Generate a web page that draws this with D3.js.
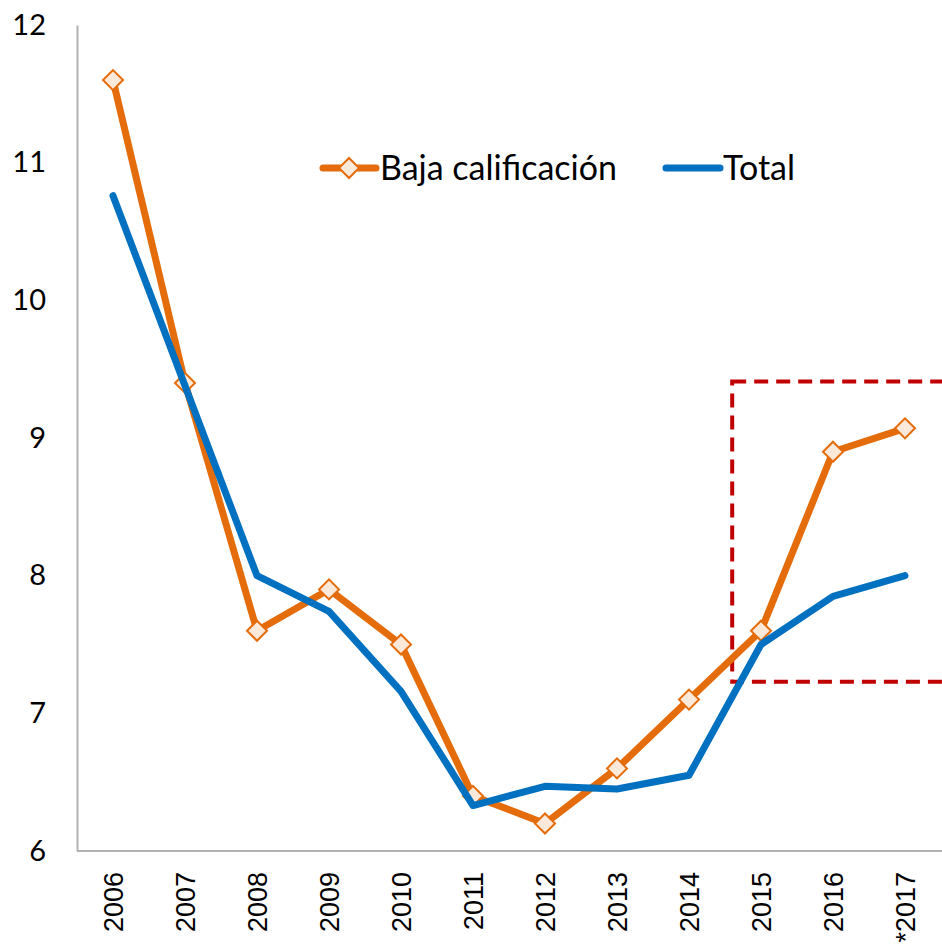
<!DOCTYPE html>
<html>
<head>
<meta charset="utf-8">
<script src="https://cdn.jsdelivr.net/npm/d3@7"></script>
<style>
  body { margin: 0; background: #fff; }
  svg { display: block; }
</style>
</head>
<body>
<svg id="chart" width="942" height="951"></svg>
<script>
const years = ["2006", "2007", "2008", "2009", "2010", "2011", "2012", "2013", "2014", "2015", "2016", "*2017"];
const baja = [11.6, 9.4, 7.6, 7.9, 7.5, 6.4, 6.2, 6.6, 7.1, 7.6, 8.9, 9.07];
const total = [10.76, 9.38, 8.0, 7.74, 7.16, 6.33, 6.47, 6.45, 6.55, 7.5, 7.85, 8.0];
const yTicks = [6, 7, 8, 9, 10, 11, 12];
// highlighted area: from between 2014/2015 to the right edge
const highlight = { from: 8.6, top: 9.41, bottom: 7.23 };

const svg = d3.select("#chart");
const width = +svg.attr("width");
const plotLeft = 77, plotRight = 941, plotTop = 25, plotBottom = 851;

const xScale = d3.scalePoint().domain(years).range([plotLeft, plotRight]).padding(0.5);
const yScale = d3.scaleLinear().domain([6, 12]).range([plotBottom, plotTop]);
const step = xScale.step();

// axes
const yAxis = d3.axisLeft(yScale).tickValues(yTicks).tickSize(0).tickPadding(31).tickFormat(d3.format("d"));
const gy = svg.append("g").attr("transform", `translate(${plotLeft},0)`).call(yAxis);
gy.select(".domain").attr("stroke", "#b3b3b3").attr("stroke-width", 2);
gy.selectAll("text").attr("font-family", "Lato, 'Open Sans', sans-serif").attr("font-size", 29).attr("fill", "#000");

svg.append("line")
  .attr("x1", plotLeft).attr("x2", width)
  .attr("y1", plotBottom).attr("y2", plotBottom)
  .attr("stroke", "#b3b3b3").attr("stroke-width", 2);

svg.selectAll(".xlabel")
  .data(years)
  .join("text")
  .attr("class", "xlabel")
  .attr("transform", d => `translate(${xScale(d) + 10},${872}) rotate(-90)`)
  .attr("text-anchor", "end")
  .attr("font-family", "'Liberation Sans', Arial, sans-serif")
  .attr("font-size", 27)
  .attr("fill", "#000")
  .text(d => d);

// dashed highlight box
const hx = xScale(years[0]) + highlight.from * step;
svg.append("rect")
  .attr("x", hx)
  .attr("y", yScale(highlight.top))
  .attr("width", width + 20 - hx)
  .attr("height", yScale(highlight.bottom) - yScale(highlight.top))
  .attr("fill", "none")
  .attr("stroke", "#c00000")
  .attr("stroke-width", 4)
  .attr("stroke-dasharray", "14,8");

const line = d3.line().x((d, i) => xScale(years[i])).y(d => yScale(d));

svg.append("path")
  .datum(baja)
  .attr("d", line)
  .attr("fill", "none")
  .attr("stroke", "#e46c0a")
  .attr("stroke-width", 7)
  .attr("stroke-linejoin", "round")
  .attr("stroke-linecap", "round");

const diamond = d3.symbol().type(d3.symbolSquare).size(200);

svg.selectAll(".mark")
  .data(baja)
  .join("path")
  .attr("class", "mark")
  .attr("d", diamond)
  .attr("transform", (d, i) => `translate(${xScale(years[i])},${yScale(d)}) rotate(45)`)
  .attr("fill", "#fde9d9")
  .attr("stroke", "#e46c0a")
  .attr("stroke-width", 2);

svg.append("path")
  .datum(total)
  .attr("d", line)
  .attr("fill", "none")
  .attr("stroke", "#0070c0")
  .attr("stroke-width", 7)
  .attr("stroke-linejoin", "round")
  .attr("stroke-linecap", "round");

// legend
const legend = svg.append("g").attr("font-family", "Lato, 'Open Sans', sans-serif").attr("font-size", 34);
const ly = 168;
legend.append("line").attr("x1", 323).attr("x2", 376).attr("y1", ly).attr("y2", ly)
  .attr("stroke", "#e46c0a").attr("stroke-width", 7).attr("stroke-linecap", "round");
legend.append("path").attr("d", diamond).attr("transform", `translate(349,${ly}) rotate(45)`)
  .attr("fill", "#fde9d9").attr("stroke", "#e46c0a").attr("stroke-width", 2);
legend.append("text").attr("x", 380).attr("y", ly).attr("dy", "0.35em").text("Baja calificación");
legend.append("line").attr("x1", 666).attr("x2", 720).attr("y1", ly).attr("y2", ly)
  .attr("stroke", "#0070c0").attr("stroke-width", 7).attr("stroke-linecap", "round");
legend.append("text").attr("x", 723).attr("y", ly).attr("dy", "0.35em").text("Total");
</script>
</body>
</html>
